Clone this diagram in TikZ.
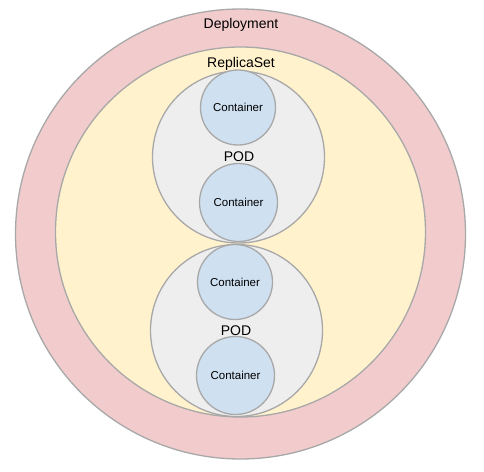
\documentclass[tikz,border=0pt]{standalone}
\usepackage{fontspec}
\setmainfont{Liberation Sans}
\definecolor{dep}{HTML}{F2CCCD}
\definecolor{rs}{HTML}{FFF2CC}
\definecolor{pod}{HTML}{EEEEEE}
\definecolor{ctr}{HTML}{CFE0F1}
\definecolor{edge}{HTML}{A8A8A8}
\begin{document}
\begin{tikzpicture}[x=1pt,y=-1pt,
  ring/.style={circle,draw=edge,line width=1.3pt,inner sep=0pt},
  deploy/.style={ring,fill=dep,minimum size=450pt},
  rset/.style={ring,fill=rs,minimum size=370pt},
  podc/.style={ring,fill=pod,minimum size=172pt},
  ctrc/.style={ring,fill=ctr},
  lbl/.style={inner sep=0pt,anchor=base,font=\fontsize{14}{16}\selectfont},
  clbl/.style={inner sep=0pt,font=\fontsize{11.5}{13}\selectfont}]
\useasboundingbox (0,0) rectangle (484,471);
\node[deploy] (deployment) at (240.5,234) {};
\node[rset] (replicaset) at (240.5,232) {};
\node[podc] (pod1) at (238.5,157) {};
\node[podc] (pod2) at (236.5,330.5) {};
\node[ctrc,minimum size=75pt] (c1) at (238,107.5) {};
\node[ctrc,minimum size=78pt] (c2) at (238.5,202.5) {};
\node[ctrc,minimum size=75pt] (c3) at (235,282) {};
\node[ctrc,minimum size=78pt] (c4) at (235.5,375.5) {};
\node[lbl] (tdep) at (241,28) {Deployment};
\node[lbl] (trs) at (241,67.5) {ReplicaSet};
\node[lbl] (tpod1) at (239,161) {POD};
\node[lbl] (tpod2) at (236,335) {POD};
\node[clbl] (tc1) at (c1) {Container};
\node[clbl] (tc2) at (c2) {Container};
\node[clbl] (tc3) at (c3) {Container};
\node[clbl] (tc4) at (c4) {Container};
\end{tikzpicture}
\end{document}
